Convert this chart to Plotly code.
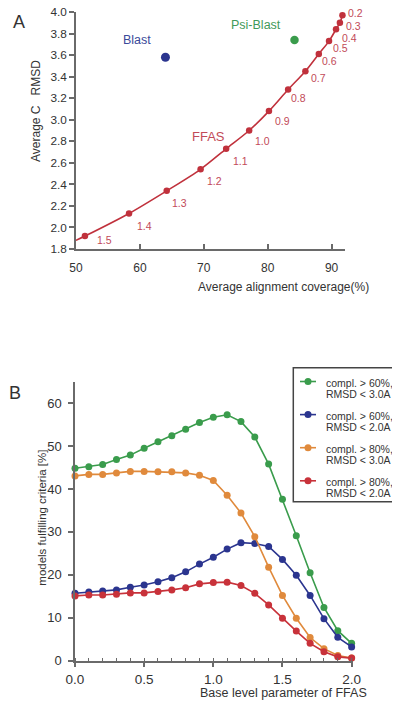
import plotly.graph_objects as go

# ---------------- Panel A data ----------------
ffas_param = ["0.2", "0.3", "0.4", "0.5", "0.6", "0.7", "0.8", "0.9",
              "1.0", "1.1", "1.2", "1.3", "1.4", "1.5"]
ffas_cov = [91.7, 91.3, 90.7, 89.6, 88.0, 85.9, 83.2, 80.2,
            77.1, 73.5, 69.5, 64.2, 58.3, 51.4]
ffas_rmsd = [3.97, 3.90, 3.84, 3.73, 3.61, 3.45, 3.28, 3.08,
             2.90, 2.73, 2.54, 2.34, 2.13, 1.92]
ffas_tail_cov = [50.0]
ffas_tail_rmsd = [1.88]
blast_cov = [64.0]
blast_rmsd = [3.58]
psiblast_cov = [84.2]
psiblast_rmsd = [3.74]

# ---------------- Panel B data ----------------
base_level = [0.0, 0.1, 0.2, 0.3, 0.4, 0.5, 0.6, 0.7, 0.8, 0.9, 1.0,
              1.1, 1.2, 1.3, 1.4, 1.5, 1.6, 1.7, 1.8, 1.9, 2.0]
c60_r30 = [44.85, 45.2, 45.7, 46.9, 47.9, 49.5, 51.0, 52.4, 53.9, 55.5, 56.7,
           57.3, 55.7, 52.1, 45.8, 37.6, 29.1, 20.5, 12.4, 7.0, 4.05]
c60_r20 = [15.7, 16.0, 16.25, 16.5, 17.1, 17.65, 18.4, 19.35, 20.7, 22.5, 24.1,
           26.0, 27.5, 27.3, 26.6, 23.6, 19.9, 15.2, 9.8, 5.45, 3.2]
c80_r30 = [43.05, 43.4, 43.4, 43.75, 44.1, 44.1, 44.0, 44.0, 43.75, 43.2, 42.0,
           38.55, 34.4, 28.9, 21.8, 15.2, 9.9, 5.4, 2.8, 1.2, 0.6]
c80_r20 = [15.1, 15.3, 15.3, 15.5, 15.8, 15.8, 16.1, 16.5, 17.0, 17.9, 18.2,
           18.3, 17.5, 15.7, 13.0, 9.9, 6.9, 4.05, 2.1, 0.9, 0.6]
series_line1 = ["compl. > 60%,", "compl. > 60%,", "compl. > 80%,", "compl. > 80%,"]
series_line2 = ["RMSD < 3.0A", "RMSD < 2.0A", "RMSD < 3.0A", "RMSD < 2.0A"]

# ---------------- styles ----------------
FONT = "Arial, Liberation Sans, sans-serif"
RED_A = "#c0313c"
RED_TXT = "#c24a58"
BLUE = "#2b358f"
GREEN = "#3a9c4c"
ORANGE = "#e08a3c"
RED = "#c8323a"
AXIS = "#6a6a6a"
TXT = "#333333"
series_colors = [GREEN, BLUE, ORANGE, RED]
# label offsets (px) of the parameter labels, relative to each point
label_dx = [6, 6, 6, 4, 3, 6, 3, 6, 6, 7, 6, 5, 8, 12]
label_dy = [-2.5, 3, 8.5, 7, 7, 7, 8, 10, 10, 12, 12, 12, 13, 4]

W, H = 400, 704
OFF = 8  # page body margin offset
def px(x):
    return (x - OFF) / W
def py(y):
    return 1 - (y - OFF) / H

fig = go.Figure()

# Panel A
fig.add_trace(go.Scatter(x=ffas_tail_cov + ffas_cov[::-1], y=ffas_tail_rmsd + ffas_rmsd[::-1],
                         mode="lines", line=dict(color=RED_A, width=1.6, shape="spline", smoothing=0.8),
                         xaxis="x", yaxis="y", showlegend=False, cliponaxis=False))
fig.add_trace(go.Scatter(x=ffas_cov, y=ffas_rmsd, mode="markers",
                         marker=dict(color=RED_A, size=6.5),
                         xaxis="x", yaxis="y", showlegend=False, cliponaxis=False))
fig.add_trace(go.Scatter(x=blast_cov, y=blast_rmsd, mode="markers",
                         marker=dict(color=BLUE, size=9),
                         xaxis="x", yaxis="y", showlegend=False, cliponaxis=False))
fig.add_trace(go.Scatter(x=psiblast_cov, y=psiblast_rmsd, mode="markers",
                         marker=dict(color=GREEN, size=8.5),
                         xaxis="x", yaxis="y", showlegend=False, cliponaxis=False))

annotations = []
for p, cx, cy, dx, dy in zip(ffas_param, ffas_cov, ffas_rmsd, label_dx, label_dy):
    annotations.append(dict(x=cx, y=cy, xref="x", yref="y", text=p, showarrow=False,
                            xanchor="left", yanchor="middle", xshift=dx - 1, yshift=-dy,
                            borderpad=0,
                            font=dict(family=FONT, size=10.5, color=RED_TXT)))
annotations.append(dict(x=blast_cov[0], y=blast_rmsd[0], xref="x", yref="y", text="Blast",
                        showarrow=False, xanchor="center", yanchor="middle",
                        xshift=-28, yshift=17, font=dict(family=FONT, size=12.5, color="#3b4a9a")))
annotations.append(dict(x=psiblast_cov[0], y=psiblast_rmsd[0], xref="x", yref="y", text="Psi-Blast",
                        showarrow=False, xanchor="center", yanchor="middle",
                        xshift=-39, yshift=15, font=dict(family=FONT, size=12.5, color="#3f9a5a")))
annotations.append(dict(x=ffas_cov[9], y=ffas_rmsd[9], xref="x", yref="y", text="FFAS",
                        showarrow=False, xanchor="center", yanchor="middle",
                        xshift=-18, yshift=12, font=dict(family=FONT, size=13, color=RED_TXT)))

# Panel B
series_vals = [c60_r30, c60_r20, c80_r30, c80_r20]
for l1, l2, vals, col in zip(series_line1, series_line2, series_vals, series_colors):
    fig.add_trace(go.Scatter(x=base_level, y=vals, mode="lines+markers", name=l1 + " " + l2,
                             line=dict(color=col, width=1.6),
                             marker=dict(color=col, size=7),
                             xaxis="x2", yaxis="y2", cliponaxis=False, showlegend=False))

# legend box (drawn in paper space)
shapes = [dict(type="rect", xref="paper", yref="paper", x0=px(293.3), x1=px(394.3),
               y0=py(501.7), y1=py(367.7), line=dict(color="#444444", width=1.5),
               fillcolor="white", layer="above")]
for i, (l1, l2, col) in enumerate(zip(series_line1, series_line2, series_colors)):
    yc = 381.5 + 33.1 * i
    shapes.append(dict(type="line", xref="paper", yref="paper", x0=px(300), x1=px(316),
                       y0=py(yc), y1=py(yc), line=dict(color=col, width=1.6), layer="above"))
    shapes.append(dict(type="circle", xref="paper", yref="paper", x0=px(304.5), x1=px(311.5),
                       y0=py(yc + 3.5), y1=py(yc - 3.5), line=dict(color=col, width=0),
                       fillcolor=col, layer="above"))
    annotations.append(dict(x=px(324), y=py(yc + 1), xref="paper", yref="paper", text=l1,
                            showarrow=False, xanchor="left", yanchor="middle",
                            font=dict(family=FONT, size=10.5, color=TXT)))
    annotations.append(dict(x=px(324), y=py(yc + 12), xref="paper", yref="paper", text=l2,
                            showarrow=False, xanchor="left", yanchor="middle",
                            font=dict(family=FONT, size=10.5, color=TXT)))

# titles & panel letters
def title(x, y, text, size, angle=0):
    return dict(x=px(x), y=py(y), xref="paper", yref="paper", text=text, showarrow=False,
                xanchor="center", yanchor="middle", textangle=angle,
                font=dict(family=FONT, size=size, color=TXT))

annotations += [
    title(283.5, 286.7, "Average alignment coverage(%)", 12),
    title(36, 111, "Average C\u00a0\u00a0\u00a0RMSD", 12, -90),
    title(283, 693, "Base level parameter of FFAS", 12.5),
    title(41.7, 518, "models fulfilling criteria [%]", 11.5, -90),
    title(19, 22, "A", 18),
    title(15, 393, "B", 18),
]

axis_common = dict(showline=True, linecolor=AXIS, linewidth=1.5, showgrid=False, zeroline=False,
                   tickcolor=AXIS, tickwidth=1.5, ticklen=5, automargin=False,
                   ticklabeloverflow="allow",
                   tickfont=dict(family=FONT, size=12, color=TXT))

fig.update_layout(
    template="none",
    width=W, height=H, margin=dict(l=0, r=0, t=0, b=0, pad=0, autoexpand=False),
    paper_bgcolor="white", plot_bgcolor="white",
    xaxis=dict(domain=[px(76), px(345)], range=[50, 92.1], anchor="y",
               tickvals=[50, 60, 70, 80, 90], ticks="inside", ticklabelstandoff=7,
               **axis_common),
    yaxis=dict(domain=[py(249), py(12)], range=[1.8, 4.0], anchor="x",
               tickvals=[1.8, 2.0, 2.2, 2.4, 2.6, 2.8, 3.0, 3.2, 3.4, 3.6, 3.8, 4.0],
               tickformat=".1f", ticks="outside",
               **{**axis_common, "tickfont": dict(family=FONT, size=11.8, color=TXT)}),
    xaxis2=dict(domain=[px(75), px(353)], range=[0, 2.01], anchor="y2",
                tickvals=[0, 0.5, 1.0, 1.5, 2.0], tickformat=".1f", ticks="outside",
                minor=dict(dtick=0.1, ticks="inside", ticklen=3, tickcolor=AXIS, tickwidth=1.2),
                **{**axis_common, "tickfont": dict(family=FONT, size=13.5, color=TXT)}),
    yaxis2=dict(domain=[py(660.7), py(381.7)], range=[0, 65], anchor="x2",
                tickvals=[0, 10, 20, 30, 40, 50, 60], ticks="outside", ticklabelstandoff=4,
                **{**axis_common, "tickfont": dict(family=FONT, size=13, color=TXT)}),
    annotations=annotations,
    shapes=shapes,
    showlegend=False,
)

fig.write_html("out.html")
